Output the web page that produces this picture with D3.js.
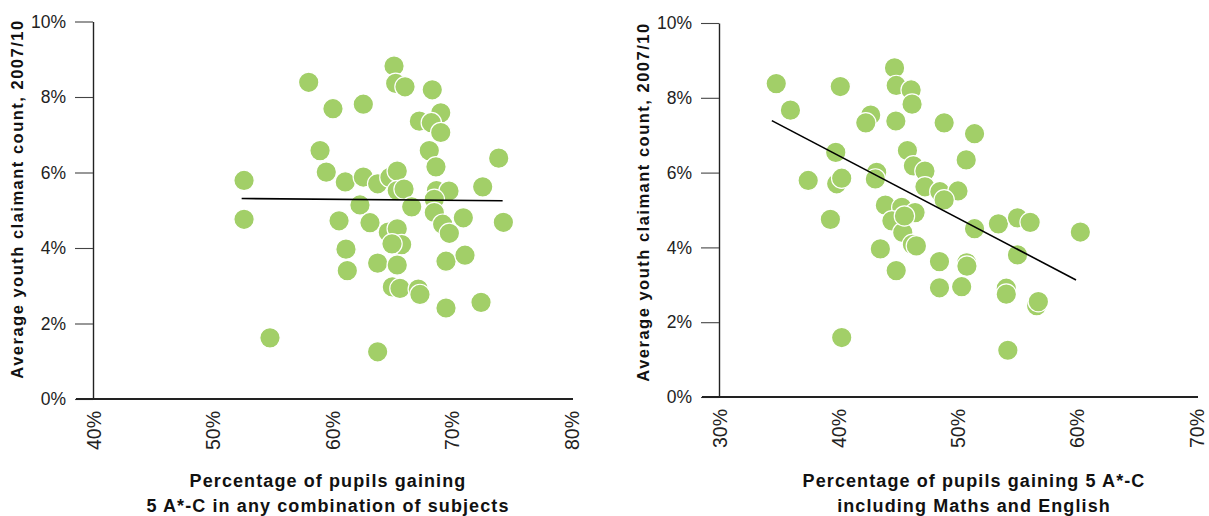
<!DOCTYPE html>
<html><head><meta charset="utf-8">
<script src="https://cdn.jsdelivr.net/npm/d3@7"></script>
<style>body{margin:0;background:#fff;} svg{display:block;}</style>
</head><body><svg id="chart" width="1209" height="516"></svg>
<script>
// ---------- data ----------
const yTicks = [0, 2, 4, 6, 8, 10];
const leftXTicks = [40, 50, 60, 70, 80];
const rightXTicks = [30, 40, 50, 60, 70];

const leftX = [65.19,65.33,66.11,58.05,68.39,60.08,62.62,69.10,67.31,68.31,69.10,59.00,68.14,68.70,73.95,52.64,59.52,61.11,62.62,63.82,64.85,65.46,65.46,66.03,68.74,69.79,72.61,68.56,62.34,66.67,52.64,60.59,63.18,68.56,69.26,69.82,70.99,74.34,64.71,65.46,65.83,65.02,61.17,61.28,63.82,65.46,69.54,71.13,65.05,65.69,67.22,67.36,69.54,72.47,54.81,63.82];
const leftY = [8.82,8.36,8.27,8.39,8.19,7.69,7.81,7.58,7.36,7.32,7.06,6.58,6.58,6.15,6.38,5.79,6.01,5.75,5.88,5.70,5.87,6.04,5.52,5.56,5.52,5.51,5.62,5.29,5.14,5.09,4.76,4.72,4.67,4.94,4.63,4.39,4.80,4.68,4.42,4.51,4.09,4.11,3.97,3.40,3.60,3.55,3.65,3.81,2.97,2.93,2.91,2.77,2.41,2.56,1.62,1.25];

const rightX = [34.80,35.99,40.17,44.72,44.86,46.11,46.19,42.72,42.31,44.83,48.88,51.43,39.79,45.80,46.30,47.27,50.73,37.48,39.87,40.29,43.22,43.11,47.27,48.52,50.04,48.88,43.95,45.33,46.44,44.50,45.41,46.22,39.34,51.43,53.43,55.03,56.09,60.30,43.53,55.03,44.86,48.49,50.77,48.49,50.35,54.09,54.09,56.64,56.78,40.29,54.22,46.55,50.79,45.55];
const rightY = [8.38,7.67,8.30,8.80,8.33,8.21,7.83,7.54,7.33,7.38,7.33,7.04,6.54,6.59,6.18,6.04,6.34,5.79,5.70,5.85,6.01,5.83,5.62,5.49,5.51,5.27,5.13,5.07,4.93,4.71,4.40,4.08,4.75,4.50,4.63,4.79,4.67,4.41,3.96,3.80,3.38,3.62,3.59,2.92,2.95,2.91,2.75,2.44,2.55,1.59,1.25,4.04,3.50,4.84];

const leftTrendX = [52.44, 74.28];
const leftTrendY = [5.31, 5.25];
const rightTrendX = [34.43, 59.94];
const rightTrendY = [7.39, 3.13];

const yTitle = "Average youth claimant count, 2007/10";
const leftTitle = ["Percentage of pupils gaining", "5 A*-C in any combination of subjects"];
const rightTitle = ["Percentage of pupils gaining 5 A*-C", "including Maths and English"];

// ---------- drawing ----------
const svg = d3.select("#chart");
const FONT = "'Liberation Sans', Arial, sans-serif";
const GREEN = "#a2cf68";

function panel(o) {
  const g = svg.append("g");
  const x = d3.scaleLinear().domain(o.xDomain).range(o.xRange);
  const y = d3.scaleLinear().domain([0, 10]).range(o.yRange);
  const ax = x(o.xDomain[0]);

  // points
  const pts = o.xs.map((v, i) => ({x: v, y: o.ys[i]}));
  g.append("g").selectAll("circle").data(pts).join("circle")
    .attr("cx", d => x(d.x)).attr("cy", d => y(d.y)).attr("r", 10.2)
    .attr("fill", GREEN).attr("stroke", "#fff").attr("stroke-width", 1.2);

  // y axis
  const ya = g.append("g").attr("transform", `translate(${ax},0)`)
    .call(d3.axisLeft(y).tickValues(yTicks).tickSize(18).tickSizeOuter(0).tickPadding(9).tickFormat(d => d + "%"));
  ya.select(".domain").attr("stroke", "#222").attr("stroke-width", 1.4);
  ya.selectAll(".tick line").attr("stroke", "#444").attr("stroke-width", 1.1);
  ya.selectAll(".tick text").attr("font-family", FONT).attr("font-size", 17.5).attr("fill", "#222");

  // x axis (labels only) + baseline
  const xa = g.append("g").attr("transform", `translate(0,${y(0)})`)
    .call(d3.axisBottom(x).tickValues(o.xTicks).tickSize(0).tickSizeOuter(0).tickFormat(d => d + "%"));
  xa.select(".domain").remove();
  xa.selectAll(".tick text")
    .attr("font-family", FONT).attr("font-size", 19.5).attr("fill", "#222")
    .attr("transform", "rotate(-90)").attr("text-anchor", "end")
    .attr("x", -12).attr("y", 0).attr("dy", "0.36em");
  g.append("line").attr("x1", ax - 17).attr("x2", x(o.xDomain[1]) + 2)
    .attr("y1", y(0)).attr("y2", y(0)).attr("stroke", "#222").attr("stroke-width", 1.8);

  // trend line
  g.append("line")
    .attr("x1", x(o.tx[0])).attr("y1", y(o.ty[0]))
    .attr("x2", x(o.tx[1])).attr("y2", y(o.ty[1]))
    .attr("stroke", "#000").attr("stroke-width", 1.6);

  // y title
  g.append("text")
    .attr("transform", `translate(${o.yTitleX},${o.yTitleY}) rotate(-90)`)
    .attr("text-anchor", "middle").attr("font-family", FONT).attr("font-weight", "bold")
    .attr("font-size", 16.5).attr("letter-spacing", 1.5).attr("fill", "#111")
    .text(yTitle);

  // x title
  const t = g.append("text").attr("text-anchor", "middle").attr("font-family", FONT)
    .attr("font-weight", "bold").attr("font-size", 18).attr("letter-spacing", 1.1).attr("fill", "#111");
  o.title.forEach((line, i) => {
    t.append("tspan").attr("x", o.titleX).attr("y", 487 + i * 24.5).text(line);
  });
}

panel({xDomain: [40, 80], xRange: [93, 571], yRange: [399, 21.5], xs: leftX, ys: leftY,
  xTicks: leftXTicks, tx: leftTrendX, ty: leftTrendY, yTitleX: 23, yTitleY: 199, title: leftTitle, titleX: 328});
panel({xDomain: [30, 70], xRange: [719, 1196], yRange: [397, 23], xs: rightX, ys: rightY,
  xTicks: rightXTicks, tx: rightTrendX, ty: rightTrendY, yTitleX: 649, yTitleY: 202, title: rightTitle, titleX: 974});
</script>
</body></html>
